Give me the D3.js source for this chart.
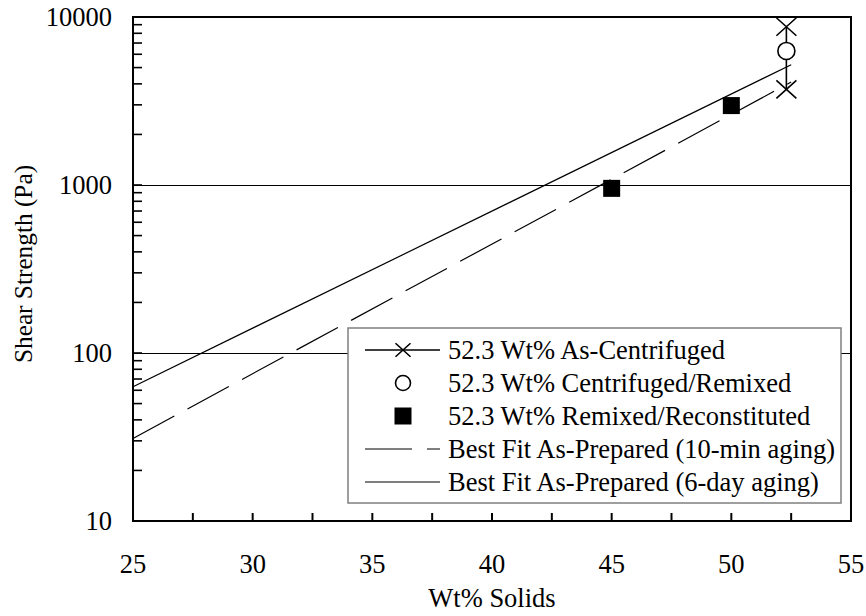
<!DOCTYPE html>
<html>
<head>
<meta charset="utf-8">
<script src="https://cdn.jsdelivr.net/npm/d3@7"></script>
<style>
  body { margin: 0; background: #fff; }
</style>
</head>
<body>
<div id="chart"></div>
<script>
// Shear strength vs wt% solids (log scale)
const xTickLabels = [25, 30, 35, 40, 45, 50, 55];
const yTickLabels = [10, 100, 1000, 10000];

const centrifugedX = [52.3, 52.3];
const centrifugedY = [8750, 3710];
const remixedX = [52.3];
const remixedY = [6280];
const reconstitutedX = [45, 50];
const reconstitutedY = [955, 2970];
const fit10minX = [25, 52.5];
const fit10minY = [31, 4100];
const fit6dayX = [25, 52.5];
const fit6dayY = [63, 5200];

const legendLabels = [
  "52.3 Wt% As-Centrifuged",
  "52.3 Wt% Centrifuged/Remixed",
  "52.3 Wt% Remixed/Reconstituted",
  "Best Fit As-Prepared (10-min aging)",
  "Best Fit As-Prepared (6-day aging)"
];

(function () {
  const W = 866, H = 616;
  const margin = { top: 17, right: 15, bottom: 95, left: 133 };
  const width = W - margin.left - margin.right;
  const height = H - margin.top - margin.bottom;
  const serif = "'Liberation Serif', 'Times New Roman', serif";

  const svg = d3.select("#chart").append("svg")
    .attr("width", W).attr("height", H)
    .attr("font-family", serif);
  svg.append("rect").attr("width", W).attr("height", H).attr("fill", "#fff");

  const g = svg.append("g").attr("transform", `translate(${margin.left},${margin.top})`);

  const x = d3.scaleLinear().domain([25, 55]).range([0, width]);
  const y = d3.scaleLog().domain([10, 10000]).range([height, 0]);

  const zip = (xs, ys) => xs.map((v, i) => [v, ys[i]]);
  const line = d3.line().x(d => x(d[0])).y(d => y(d[1]));

  // gridlines at inner decades
  g.selectAll(".grid")
    .data(yTickLabels.slice(1, -1))
    .join("line")
    .attr("x1", 0).attr("x2", width)
    .attr("y1", d => y(d)).attr("y2", d => y(d))
    .attr("stroke", "#000").attr("stroke-width", 1)
    .attr("shape-rendering", "crispEdges");

  // best-fit lines
  g.append("path").attr("d", line(zip(fit10minX, fit10minY)))
    .attr("fill", "none").attr("stroke", "#000").attr("stroke-width", 1.2)
    .attr("stroke-dasharray", "47,15");
  g.append("path").attr("d", line(zip(fit6dayX, fit6dayY)))
    .attr("fill", "none").attr("stroke", "#000").attr("stroke-width", 1.2);

  const crossPath = s => `M${-10 * s},${-9 * s}L${10 * s},${9 * s}M${-10 * s},${9 * s}L${10 * s},${-9 * s}`;

  // as-centrifuged
  const cData = zip(centrifugedX, centrifugedY);
  g.append("path").attr("d", line(cData))
    .attr("fill", "none").attr("stroke", "#000").attr("stroke-width", 1.6);
  g.selectAll(".cross").data(cData).join("path")
    .attr("transform", d => `translate(${x(d[0])},${y(d[1])})`)
    .attr("d", crossPath(1))
    .attr("fill", "none").attr("stroke", "#000").attr("stroke-width", 1.6);

  // centrifuged/remixed
  g.selectAll(".circ").data(zip(remixedX, remixedY)).join("circle")
    .attr("cx", d => x(d[0])).attr("cy", d => y(d[1])).attr("r", 8.5)
    .attr("fill", "#fff").attr("stroke", "#000").attr("stroke-width", 1.6);

  // remixed/reconstituted
  g.selectAll(".sq").data(zip(reconstitutedX, reconstitutedY)).join("rect")
    .attr("x", d => x(d[0]) - 8.5).attr("y", d => y(d[1]) - 8.5)
    .attr("width", 17).attr("height", 17).attr("fill", "#000");

  // frame
  g.append("rect").attr("width", width).attr("height", height)
    .attr("fill", "none").attr("stroke", "#000").attr("stroke-width", 2);

  // y minor ticks (inward)
  g.selectAll(".ytick").data(y.ticks()).join("line")
    .attr("x1", 0).attr("x2", 9)
    .attr("y1", d => y(d)).attr("y2", d => y(d))
    .attr("stroke", "#000").attr("stroke-width", 1.6);

  // x ticks (inward) every 2.5
  g.selectAll(".xtick").data(d3.range(25, 55.01, 2.5)).join("line")
    .attr("x1", d => x(d)).attr("x2", d => x(d))
    .attr("y1", height).attr("y2", height - 8)
    .attr("stroke", "#000").attr("stroke-width", 2);

  g.selectAll(".ylab").data(yTickLabels).join("text")
    .attr("x", -21).attr("y", d => y(d)).attr("dy", "0.35em")
    .attr("text-anchor", "end").attr("font-size", 26.5)
    .text(d => d);

  g.selectAll(".xlab").data(xTickLabels).join("text")
    .attr("x", d => x(d)).attr("y", height + 52)
    .attr("text-anchor", "middle").attr("font-size", 26.5)
    .text(d => d);

  svg.append("text")
    .attr("x", margin.left + width / 2).attr("y", 607)
    .attr("text-anchor", "middle").attr("font-size", 26.5)
    .text("Wt% Solids");

  svg.append("text")
    .attr("transform", "translate(32,264) rotate(-90)")
    .attr("text-anchor", "middle").attr("font-size", 25.3)
    .text("Shear Strength (Pa)");

  // legend
  const lg = svg.append("g").attr("transform", "translate(348,328)");
  lg.append("rect").attr("width", 493).attr("height", 175)
    .attr("fill", "#fff").attr("stroke", "#7f7f7f").attr("stroke-width", 1.5);

  legendLabels.forEach((label, i) => {
    const ry = 22 + i * 33;
    const row = lg.append("g").attr("transform", `translate(0,${ry})`);
    if (i === 0 || i === 3 || i === 4) {
      row.append("line").attr("x1", 17).attr("x2", 92)
        .attr("stroke", "#000")
        .attr("stroke-width", i === 0 ? 1.6 : 1.2)
        .attr("stroke-dasharray", i === 3 ? "47,15" : null);
    }
    if (i === 0) {
      row.append("path").attr("transform", "translate(55,0)").attr("d", crossPath(0.75))
        .attr("fill", "none").attr("stroke", "#000").attr("stroke-width", 1.6);
    } else if (i === 1) {
      row.append("circle").attr("cx", 55).attr("r", 7.5)
        .attr("fill", "#fff").attr("stroke", "#000").attr("stroke-width", 1.6);
    } else if (i === 2) {
      row.append("rect").attr("x", 46.5).attr("y", -8.5).attr("width", 17).attr("height", 17)
        .attr("fill", "#000");
    }
    row.append("text").attr("x", 100).attr("dy", "0.35em")
      .attr("font-size", 26.5).text(label);
  });
})();
</script>
</body>
</html>
